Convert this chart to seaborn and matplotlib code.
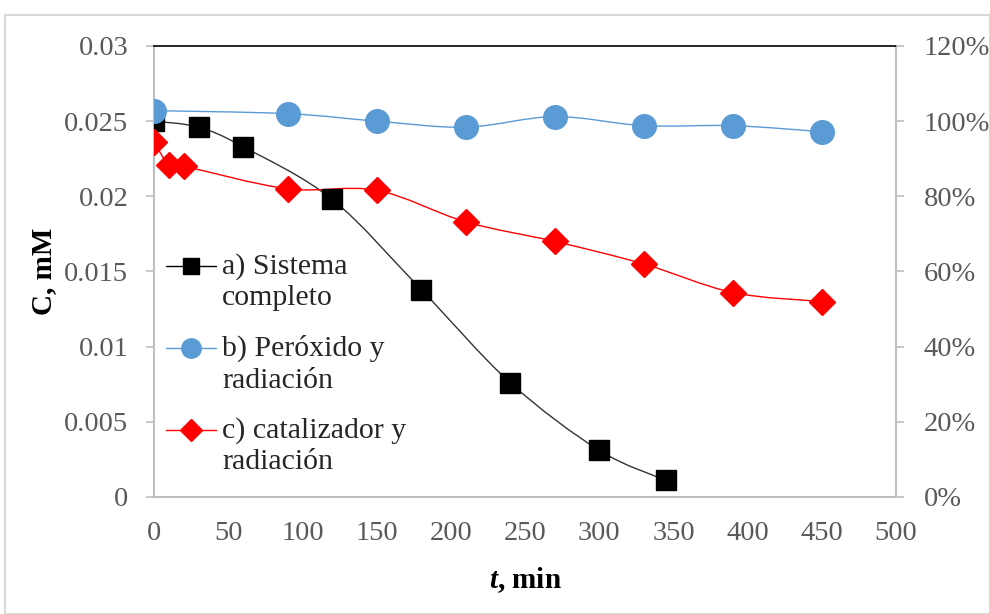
import numpy as np
import pandas as pd
import matplotlib
matplotlib.use("Agg")
import matplotlib.pyplot as plt
import seaborn as sns
from matplotlib.path import Path
from matplotlib.patches import PathPatch, Rectangle
from matplotlib.ticker import PercentFormatter, MultipleLocator
from matplotlib.lines import Line2D
from matplotlib.legend_handler import HandlerLine2D

# ---- data ----
t_a = [0, 30, 60, 120, 180, 240, 300, 345]
c_a = [0.0250, 0.0246, 0.0233, 0.0198, 0.0138, 0.0076, 0.0031, 0.0011]
t_b = [0, 90, 150, 210, 270, 330, 390, 450]
c_b = [0.0257, 0.0255, 0.0250, 0.0246, 0.0253, 0.0247, 0.0247, 0.0243]
t_c = [0, 10, 20, 90, 150, 210, 270, 330, 390, 450]
c_c = [0.0236, 0.0221, 0.0220, 0.0205, 0.0204, 0.0183, 0.0170, 0.0155, 0.0136, 0.0130]
labels = ["a) Sistema\ncompleto", "b) Peróxido y\nradiación", "c) catalizador y\nradiación"]
colors = ["#000000", "#5B9BD5", "#FF0000"]
line_colors = ["#333333", "#5B9BD5", "#FF0000"]
markers = ["s", "o", "D"]
msizes = [14, 17, 13.5]
leg_msizes = [11, 14, 11.5]

sns.set_theme(style="white")
plt.rcParams["font.family"] = ["Liberation Serif", "DejaVu Serif"]
plt.rcParams["mathtext.fontset"] = "custom"
plt.rcParams["mathtext.rm"] = "Liberation Serif"
plt.rcParams["mathtext.it"] = "Liberation Serif:italic"
plt.rcParams["mathtext.bf"] = "Liberation Serif:bold"
plt.rcParams["mathtext.bfit"] = "Liberation Serif:italic:bold"

fig = plt.figure(figsize=(9.9, 6.14), dpi=100)
ax = fig.add_axes([0.1556, 0.1906, 0.7495, 0.7345])

def smooth_path(x, y):
    x = np.asarray(x, float); y = np.asarray(y, float)
    n = len(x)
    verts = [(x[0], y[0])]
    codes = [Path.MOVETO]
    for i in range(n - 1):
        p0 = np.array([x[max(i - 1, 0)], y[max(i - 1, 0)]])
        p1 = np.array([x[i], y[i]])
        p2 = np.array([x[i + 1], y[i + 1]])
        p3 = np.array([x[min(i + 2, n - 1)], y[min(i + 2, n - 1)]])
        c1 = p1 + (p2 - p0) / 6.0
        c2 = p2 - (p3 - p1) / 6.0
        verts += [tuple(c1), tuple(c2), tuple(p2)]
        codes += [Path.CURVE4] * 3
    return Path(verts, codes)

series = [(t_a, c_a), (t_b, c_b), (t_c, c_c)]
for (tx, cy), col, lcol, mk, ms in zip(series, colors, line_colors, markers, msizes):
    ax.add_patch(PathPatch(smooth_path(tx, cy), facecolor="none", edgecolor=lcol,
                           lw=1.0, zorder=2))
    df = pd.DataFrame({"t": tx, "c": cy})
    sns.lineplot(data=df, x="t", y="c", ax=ax, color=col, linestyle="none",
                 marker=mk, markersize=ms, markeredgecolor=col, markeredgewidth=1,
                 zorder=3)

ax.set_xlim(0, 500)
ax.set_ylim(0, 0.03)
ax.xaxis.set_major_locator(MultipleLocator(50))
ax.set_yticks([0, 0.005, 0.01, 0.015, 0.02, 0.025, 0.03])
ax.set_yticklabels(["0", "0.005", "0.01", "0.015", "0.02", "0.025", "0.03"])

gray = "#BFBFBF"
tcol = "#595959"
for s in ["left", "right", "bottom"]:
    ax.spines[s].set_color(gray)
    ax.spines[s].set_linewidth(1.5)
ax.spines["top"].set_color("black")
ax.spines["top"].set_linewidth(1.2)
ax.tick_params(axis="both", direction="out", length=6, width=1.2, color=gray,
               labelcolor=tcol, labelsize=20.5)
ax.tick_params(axis="y", pad=12.5)
ax.tick_params(axis="x", pad=11)
ax.set_xlabel("$\\mathbfit{t}$, min", fontsize=21, fontweight="bold", color="black", labelpad=14)
ax.set_ylabel("C, mM", fontsize=21, fontweight="bold", color="black", labelpad=5.5)

ax2 = ax.twinx()
ax2.set_ylim(0, 1.2)
ax2.yaxis.set_major_locator(MultipleLocator(0.2))
ax2.yaxis.set_major_formatter(PercentFormatter(1.0, decimals=0))
for s in ["left", "right", "bottom", "top"]:
    ax2.spines[s].set_visible(False)
ax2.tick_params(axis="y", direction="out", length=6, width=1.2, color=gray,
                labelcolor=tcol, labelsize=20.5, pad=14)
ax2.grid(False)
ax.grid(False)


class TopLineHandler(HandlerLine2D):
    def __init__(self, dy=0.0, **kw):
        super().__init__(**kw)
        self.dy = dy

    def create_artists(self, legend, orig_handle, xdescent, ydescent, width,
                       height, fontsize, trans):
        arts = super().create_artists(legend, orig_handle, xdescent, ydescent,
                                      width, height, fontsize, trans)
        for a in arts:
            a.set_ydata(np.asarray(a.get_ydata(), float) + self.dy)
        return arts


handles = [Line2D([0], [0], color=c, marker=m, markersize=ms, lw=1)
           for c, m, ms in zip(colors, markers, leg_msizes)]
leg = ax.legend(handles, labels, loc="upper left", bbox_to_anchor=(-0.012, 0.587),
                frameon=False, fontsize=21.5, handlelength=1.68, handletextpad=0.2,
                labelspacing=0.78, borderaxespad=0.3,
                handler_map={Line2D: TopLineHandler(dy=11.5)})
for txt in leg.get_texts():
    txt.set_linespacing(1.27)
leg.set_zorder(5)

fig.patches.append(Rectangle((0.005, 0.0), 0.995, 0.975, transform=fig.transFigure,
                             fill=False, edgecolor="#D9D9D9", lw=1.5))

fig.savefig("out.png", dpi=100)
